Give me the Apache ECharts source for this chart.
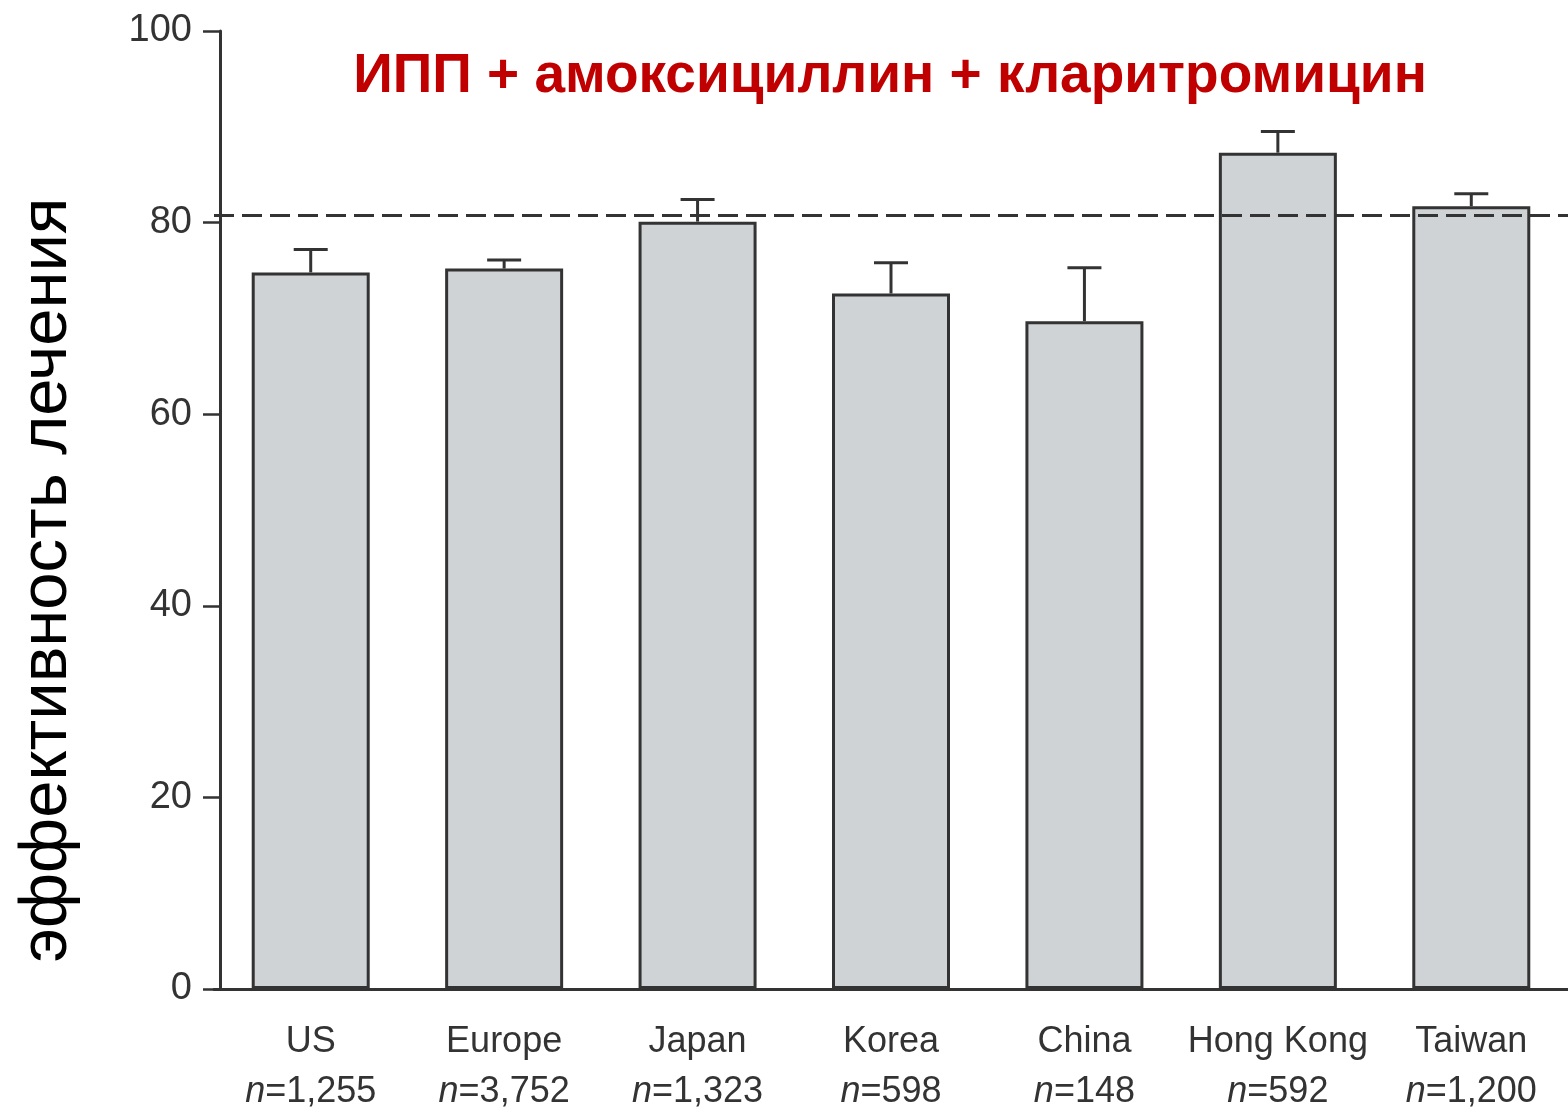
<!DOCTYPE html>
<html>
<head>
<meta charset="utf-8">
<script src="https://cdn.jsdelivr.net/npm/echarts@6/dist/echarts.min.js"></script>
<style>
html,body{margin:0;padding:0;background:#fff;}
#chart{width:1568px;height:1112px;}
</style>
</head>
<body>
<div id="chart"></div>
<script>
const categories = ['US', 'Europe', 'Japan', 'Korea', 'China', 'Hong Kong', 'Taiwan'];
const sampleSizes = ['1,255', '3,752', '1,323', '598', '148', '592', '1,200'];
const efficacy = [74.8, 75.2, 80.1, 72.6, 69.7, 87.3, 81.7];
const upperCI = [77.2, 76.1, 82.4, 75.8, 75.3, 89.5, 83.0];
const referenceLine = 80.8;
const yMin = 0, yMax = 100, yInterval = 20;
const titleText = 'ИПП + амоксициллин + кларитромицин';
const yTitle = 'эффективность лечения';

const chart = echarts.init(document.getElementById('chart'));
const errData = categories.map((c, i) => [i, efficacy[i], upperCI[i]]);
const font = 'Liberation Sans, Arial, sans-serif';

chart.setOption({
  backgroundColor: '#fff',
  animation: false,
  grid: { left: 214, top: 31, bottom: 123, width: 1358 },
  xAxis: {
    type: 'category',
    data: categories,
    axisLine: { lineStyle: { color: '#333', width: 3 } },
    axisTick: { alignWithLabel: true, length: 22, lineStyle: { color: '#333', width: 2.5 } },
    axisLabel: {
      margin: 28,
      formatter: (v, i) => '{a|' + v + '}\n{n|n}{b|=' + sampleSizes[i] + '}',
      rich: {
        a: { fontFamily: font, fontSize: 36, color: '#333', lineHeight: 50 },
        n: { fontFamily: font, fontSize: 36, color: '#333', fontStyle: 'italic', lineHeight: 50 },
        b: { fontFamily: font, fontSize: 36, color: '#333', lineHeight: 50 }
      }
    }
  },
  yAxis: {
    type: 'value',
    min: yMin, max: yMax, interval: yInterval,
    offset: -6,
    splitLine: { show: false },
    axisLine: { show: true, lineStyle: { color: '#333', width: 3 } },
    axisTick: { show: true, length: 17, lineStyle: { color: '#333', width: 2.5 } },
    axisLabel: { fontFamily: font, fontSize: 38, color: '#333', margin: 28 }
  },
  graphic: [
    {
      type: 'text', x: 890, y: 77,
      style: { text: titleText, fill: '#c00000', font: 'bold 55px Liberation Sans, Arial, sans-serif', textAlign: 'center', textVerticalAlign: 'middle' }
    },
    {
      type: 'text', x: 48, y: 580, rotation: Math.PI / 2,
      style: { text: yTitle, fill: '#000', font: '67px Liberation Sans, Arial, sans-serif', textAlign: 'center', textVerticalAlign: 'middle' }
    }
  ],
  series: [
    {
      type: 'bar',
      data: efficacy,
      barWidth: 118,
      itemStyle: { color: '#d0d3d6', borderColor: '#333', borderWidth: 3 },
      markLine: {
        silent: true,
        symbol: 'none',
        label: { show: false },
        lineStyle: { color: '#333', width: 3, type: [20, 8] },
        data: [{ yAxis: referenceLine }]
      },
      z: 2
    },
    {
      type: 'custom',
      data: errData,
      z: 3,
      renderItem: (params, api) => {
        const p0 = api.coord([api.value(0), api.value(1)]);
        const p1 = api.coord([api.value(0), api.value(2)]);
        const hw = 17;
        const st = { stroke: '#333', lineWidth: 3 };
        return {
          type: 'group',
          children: [
            { type: 'line', shape: { x1: p0[0], y1: p0[1], x2: p1[0], y2: p1[1] }, style: st },
            { type: 'line', shape: { x1: p1[0] - hw, y1: p1[1], x2: p1[0] + hw, y2: p1[1] }, style: st }
          ]
        };
      }
    }
  ]
});
</script>
</body>
</html>
